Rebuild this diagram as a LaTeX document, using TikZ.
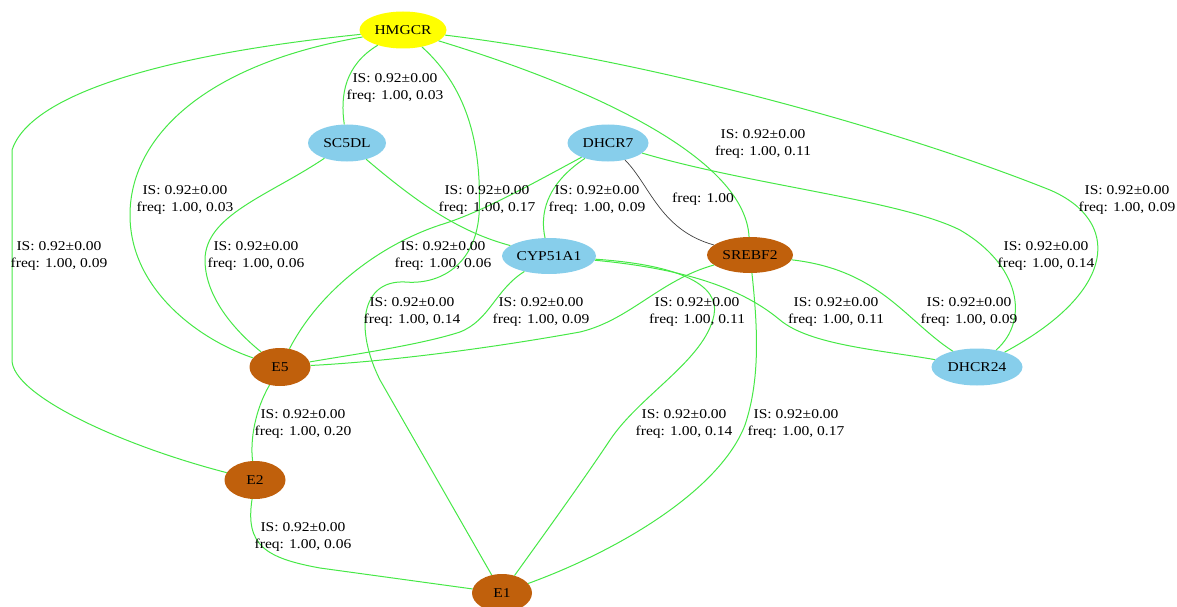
\documentclass[tikz,border=0pt]{standalone}
\usepackage{fontspec}
\setmainfont[FakeStretch=1.15]{Liberation Serif}
\usetikzlibrary{shapes.geometric}
\definecolor{hubyellow}{RGB}{255,255,0}
\definecolor{geneblue}{RGB}{135,206,235}
\definecolor{rust}{RGB}{192,96,12}
\definecolor{linkgreen}{RGB}{70,232,70}
\tikzset{
  gene/.style={ellipse, inner sep=0pt, minimum height=37pt, font=\fontsize{13.5}{17}\selectfont},
  hub/.style={gene, fill=hubyellow},
  enzyme/.style={gene, fill=geneblue},
  factor/.style={gene, fill=rust},
  link/.style={draw=linkgreen, line width=1pt},
  reg/.style={draw=black!75, line width=0.7pt},
  lbl/.style={align=center, inner sep=0pt, font=\fontsize{13.5}{17}\selectfont},
}
\newcommand{\isfreq}[1]{IS: 0.92±0.00\\freq: 1.00, #1}

\begin{document}
\begin{tikzpicture}[x=1pt, y=-1pt]
    \useasboundingbox (0,0) rectangle (1177,607);

    % Genes
    \node[hub, minimum width=87pt] (hmgcr) at (403,30) {HMGCR};
    \node[enzyme, minimum width=78pt] (sc5dl) at (347,143) {SC5DL};
    \node[enzyme, minimum width=81pt] (dhcr7) at (608,143) {DHCR7};
    \node[enzyme, minimum width=94pt, minimum height=36pt] (cyp51a1) at (549,256) {CYP51A1};
    \node[factor, minimum width=86pt, minimum height=36pt] (srebf2) at (750,255) {SREBF2};
    \node[factor, minimum width=61pt, minimum height=38pt] (e5) at (280,367) {E5};
    \node[enzyme, minimum width=91pt] (dhcr24) at (977,367) {DHCR24};
    \node[factor, minimum width=61pt, minimum height=38pt] (e2) at (255,480) {E2};
    \node[factor, minimum width=60pt, minimum height=38pt] (e1) at (502,593) {E1};

    % HMGCR links
    \draw[link] (hmgcr) .. controls (160,55) and (30,95) .. (12,150) -- (12,360) .. controls (12,395) and (120,445) .. (e2);
    \draw[link] (hmgcr) .. controls (200,65) and (130,140) .. (130,215) .. controls (130,290) and (200,340) .. (e5);
    \draw[link] (hmgcr) .. controls (345,65) and (340,95) .. (sc5dl);
    \draw[link] (hmgcr) .. controls (470,90) and (482,150) .. (479,215) .. controls (475,265) and (440,285) .. (405,282) .. controls (360,280) and (355,330) .. (380,380) -- (e1);
    \draw[link] (hmgcr) .. controls (600,90) and (745,160) .. (srebf2);
    \draw[link] (hmgcr) .. controls (650,60) and (900,130) .. (1050,190) .. controls (1120,220) and (1120,290) .. (dhcr24);

    % SC5DL and DHCR7 links
    \draw[link] (sc5dl) .. controls (270,195) and (205,215) .. (205,260) .. controls (205,300) and (240,335) .. (e5);
    \draw[link] (sc5dl) .. controls (420,205) and (460,232) .. (cyp51a1);
    \draw[link] (dhcr7) .. controls (530,185) and (480,213) .. (440,225) .. controls (380,245) and (320,290) .. (e5);
    \draw[link] (dhcr7) .. controls (545,185) and (540,215) .. (cyp51a1);
    \draw[reg] (dhcr7) .. controls (650,185) and (660,230) .. (srebf2);
    \draw[link] (dhcr7) .. controls (750,185) and (900,200) .. (960,230) .. controls (1020,265) and (1030,320) .. (dhcr24);

    % CYP51A1 and SREBF2 links
    \draw[link] (cyp51a1) .. controls (495,290) and (490,320) .. (460,332) .. controls (420,345) and (350,355) .. (e5);
    \draw[link] (srebf2) .. controls (660,280) and (630,320) .. (580,332) .. controls (480,350) and (380,362) .. (e5);
    \draw[link] (cyp51a1) .. controls (680,265) and (720,285) .. (714,315) .. controls (705,360) and (640,395) .. (610,440) .. controls (580,485) and (540,540) .. (e1);
    \draw[link] (cyp51a1) .. controls (700,270) and (750,295) .. (780,320) .. controls (810,345) and (880,350) .. (dhcr24);
    \draw[link] (srebf2) .. controls (880,270) and (905,320) .. (dhcr24);
    \draw[link] (srebf2) .. controls (758,330) and (760,380) .. (745,425) .. controls (720,490) and (620,550) .. (e1);

    % E links
    \draw[link] (e5) .. controls (255,410) and (250,440) .. (e2);
    \draw[link] (e2) .. controls (245,545) and (265,558) .. (320,568) -- (e1);

    % Edge labels
    \node[lbl] (l-hm-sc) at (395,88) {\isfreq{0.03}};
    \node[lbl] (l-hm-sr) at (763,144) {\isfreq{0.11}};
    \node[lbl] (l-hm-e5) at (185,200) {\isfreq{0.03}};
    \node[lbl] (l-dh-e5) at (487,200) {\isfreq{0.17}};
    \node[lbl] (l-dh-cy) at (597,200) {\isfreq{0.09}};
    \node[lbl] (l-dh-sr) at (703,199) {freq: 1.00};
    \node[lbl] (l-hm-d24) at (1127,200) {\isfreq{0.09}};
    \node[lbl] (l-hm-e2) at (59,256) {\isfreq{0.09}};
    \node[lbl] (l-sc-e5) at (256,256) {\isfreq{0.06}};
    \node[lbl] (l-sc-cy) at (443,256) {\isfreq{0.06}};
    \node[lbl] (l-dh-d24) at (1046,256) {\isfreq{0.14}};
    \node[lbl] (l-hm-e1) at (412,312) {\isfreq{0.14}};
    \node[lbl] (l-cy-e5) at (541,312) {\isfreq{0.09}};
    \node[lbl] (l-sr-e5) at (697,312) {\isfreq{0.11}};
    \node[lbl] (l-cy-d24) at (836,312) {\isfreq{0.11}};
    \node[lbl] (l-sr-d24) at (969,312) {\isfreq{0.09}};
    \node[lbl] (l-e5-e2) at (303,424) {\isfreq{0.20}};
    \node[lbl] (l-cy-e1) at (684,424) {\isfreq{0.14}};
    \node[lbl] (l-sr-e1) at (796,424) {\isfreq{0.17}};
    \node[lbl] (l-e2-e1) at (303,537) {\isfreq{0.06}};

\end{tikzpicture}
\end{document}
